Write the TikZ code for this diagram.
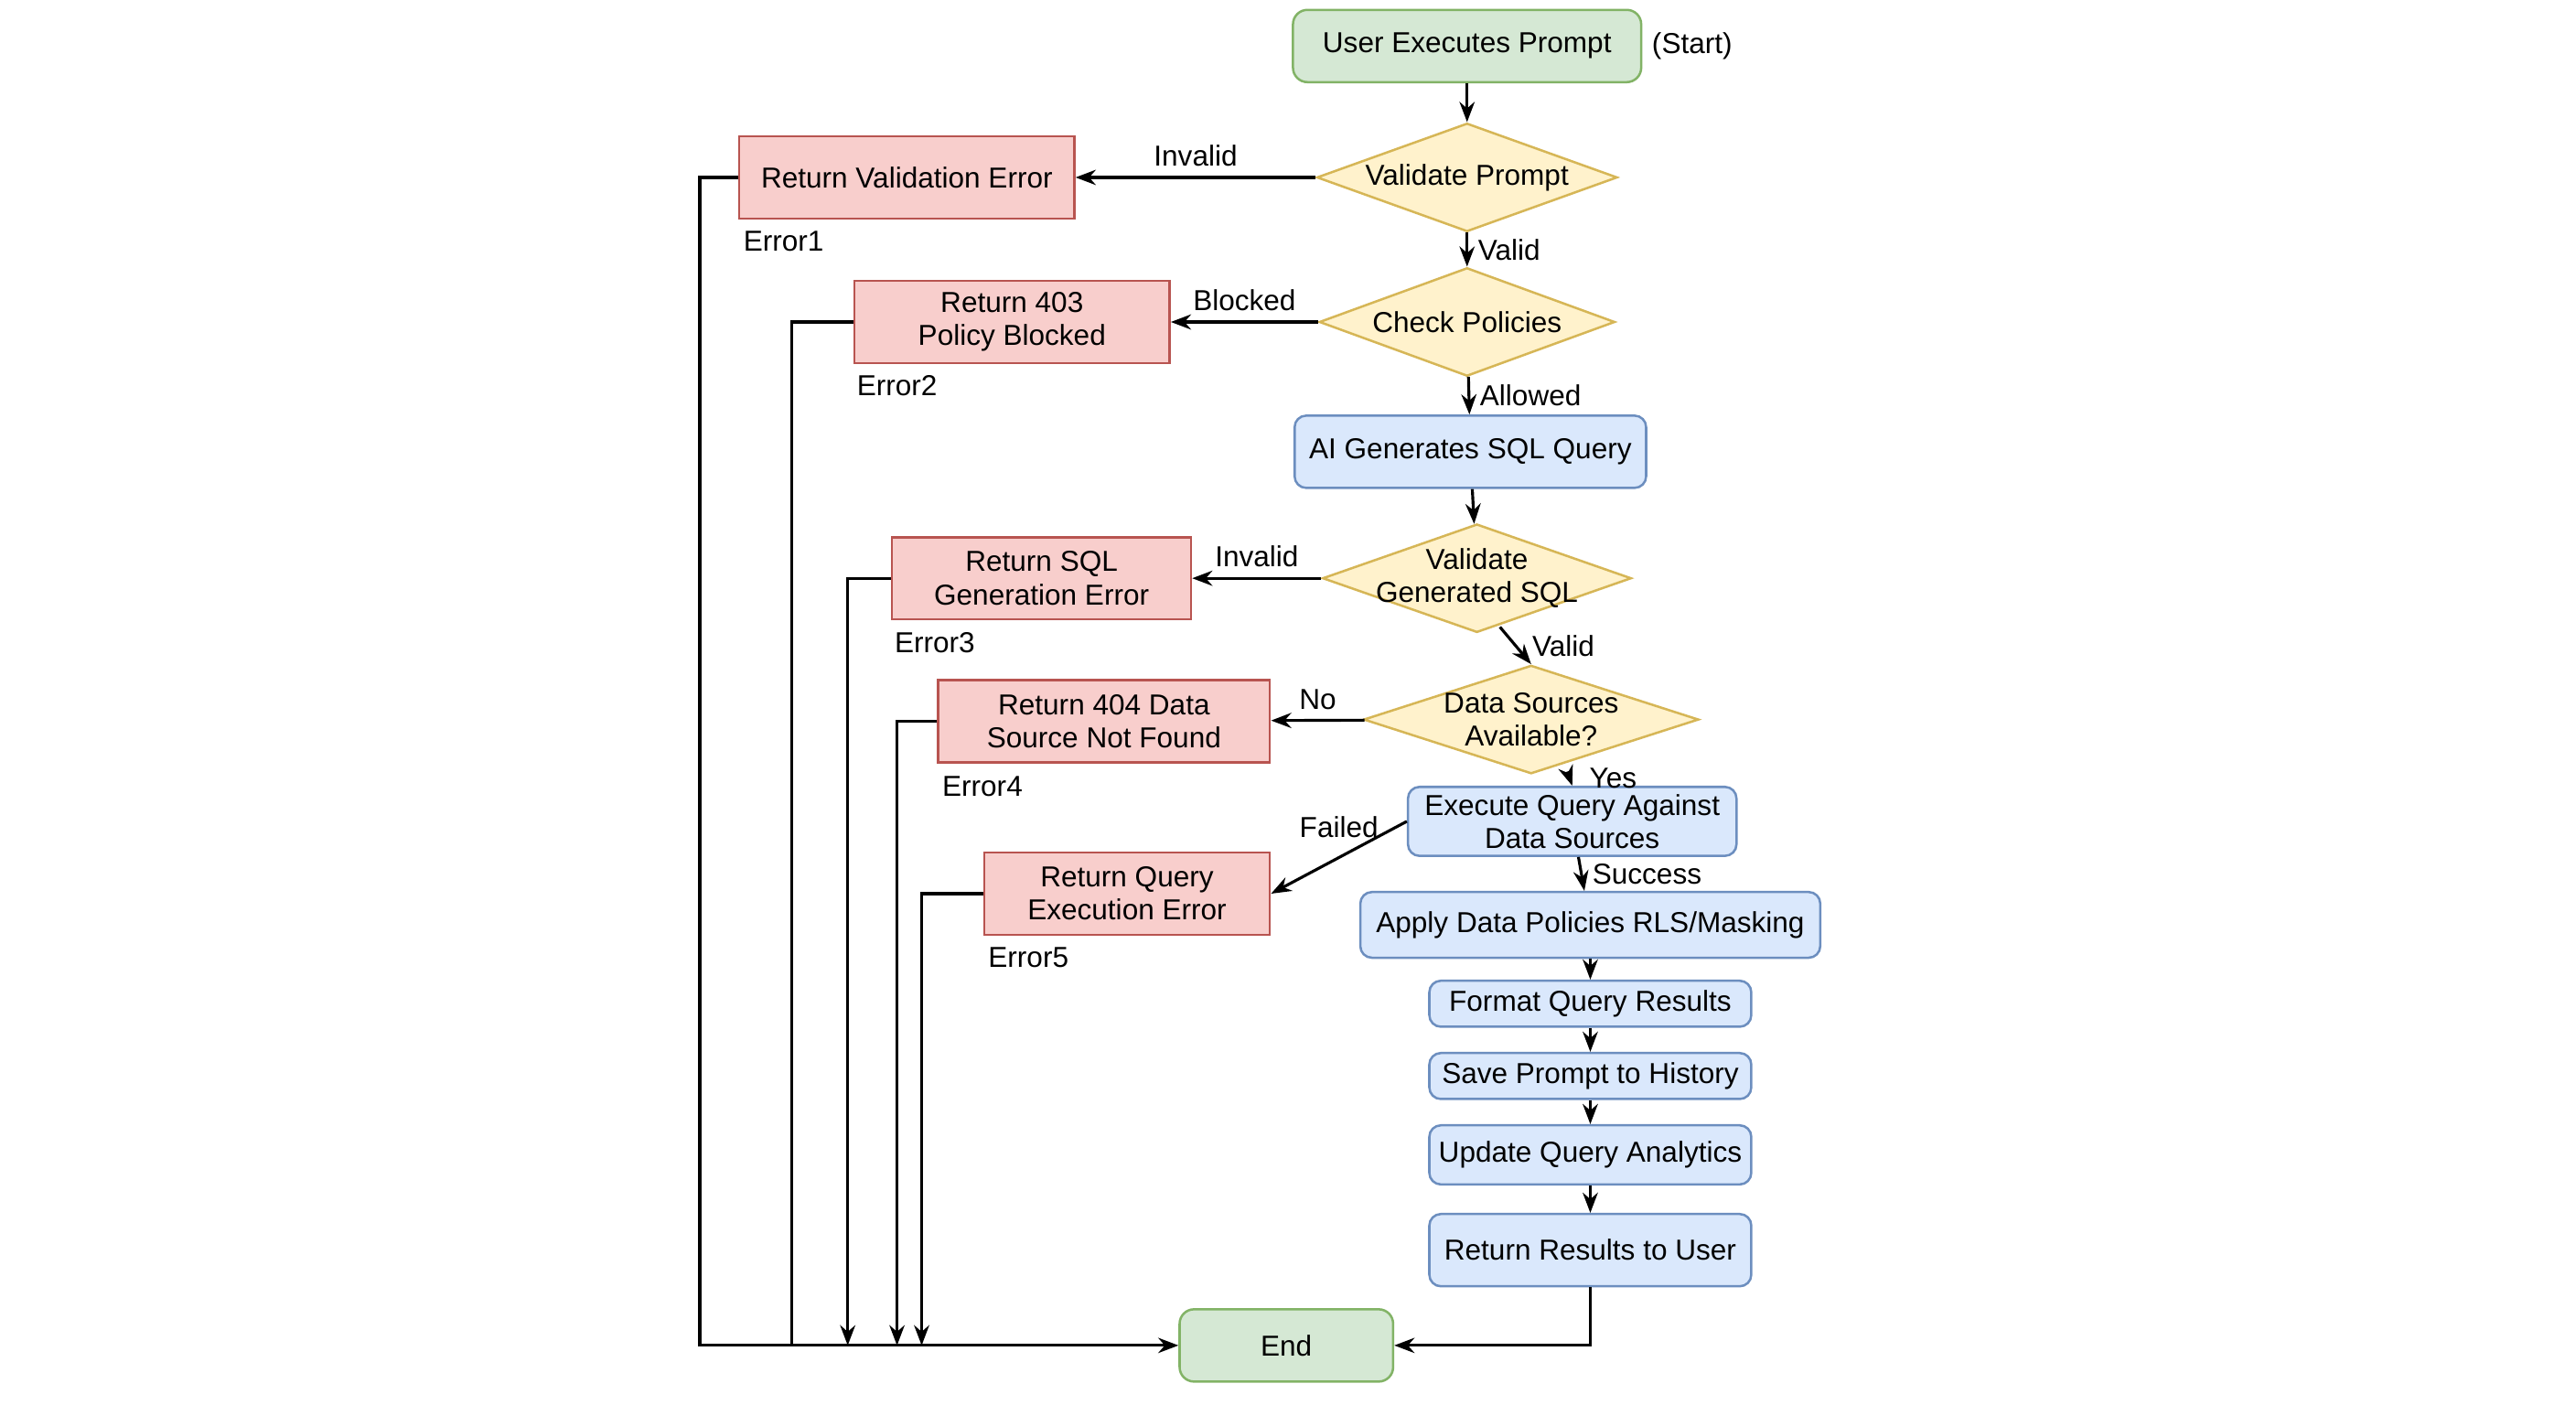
\documentclass[tikz,border=0pt]{standalone}
\usepackage{fontspec}
\setmainfont{Liberation Sans}
\usetikzlibrary{shapes.geometric, positioning, arrows.meta}
\definecolor{StartFill}{HTML}{D5E8D4}
\definecolor{StartLine}{HTML}{82B366}
\definecolor{CheckFill}{HTML}{FFF2CC}
\definecolor{CheckLine}{HTML}{D6B656}
\definecolor{ErrFill}{HTML}{F8CECC}
\definecolor{ErrLine}{HTML}{B85450}
\definecolor{StepFill}{HTML}{DAE8FC}
\definecolor{StepLine}{HTML}{6C8EBF}

\tikzset{
    base/.style={font=\fontsize{10}{11.5}\selectfont, align=center, inner sep=1pt, line width=0.8pt},
    terminal/.style={base, rounded corners=5pt, fill=StartFill, draw=StartLine},
    action/.style={base, rounded corners=4pt, fill=StepFill, draw=StepLine},
    check/.style={base, diamond, aspect=2.8, fill=CheckFill, draw=CheckLine},
    fail/.style={base, fill=ErrFill, draw=ErrLine},
    tag/.style={font=\fontsize{10}{11.5}\selectfont},
    flow/.style={-{Stealth[length=7pt]}, line width=1pt}
}

\begin{document}
\begin{tikzpicture}[x=0.02cm, y=-0.02cm]
    \useasboundingbox (0,0) rectangle (1568,855);

    % Main path
    \node[terminal, minimum width=4.24cm, minimum height=0.88cm] (start) at (893,28) {User Executes Prompt};
    \node[tag] (starttag) at (1030,28) {(Start)};
    \node[check, minimum width=3.6cm, minimum height=1.32cm] (vprompt) at (893,108) {Validate Prompt};
    \node[check, minimum width=3.6cm, minimum height=1.32cm] (policies) at (893,196) {Check Policies};
    \node[action, minimum width=4.28cm, minimum height=0.88cm] (gensql) at (895,275) {AI Generates SQL Query};
    \node[check, inner sep=-7pt, minimum width=3.76cm, minimum height=1.32cm] (vsql) at (899,352) {Validate\\Generated SQL};
    \node[check, inner sep=-6pt, minimum width=4.08cm, minimum height=1.32cm] (sources) at (932,438) {Data Sources\\Available?};
    \node[action, minimum width=4cm, minimum height=0.84cm] (exec) at (957,500) {Execute Query Against\\Data Sources};
    \node[action, minimum width=5.6cm, minimum height=0.8cm] (apply) at (968,563) {Apply Data Policies RLS/Masking};
    \node[action, minimum width=3.92cm, minimum height=0.56cm] (format) at (968,611) {Format Query Results};
    \node[action, minimum width=3.92cm, minimum height=0.56cm] (save) at (968,655) {Save Prompt to History};
    \node[action, minimum width=3.92cm, minimum height=0.72cm] (update) at (968,703) {Update Query Analytics};
    \node[action, minimum width=3.92cm, minimum height=0.88cm] (results) at (968,761) {Return Results to User};
    \node[terminal, minimum width=2.6cm, minimum height=0.88cm] (end) at (783,819) {End};

    % Error boxes
    \node[fail, minimum width=4.08cm, minimum height=1cm] (err1) at (552,108) {Return Validation Error};
    \node[fail, minimum width=3.84cm, minimum height=1cm] (err2) at (616,196) {Return 403\\Policy Blocked};
    \node[fail, minimum width=3.64cm, minimum height=1cm] (err3) at (634,352) {Return SQL\\Generation Error};
    \node[fail, minimum width=4.04cm, minimum height=1cm] (err4) at (672,439) {Return 404 Data\\Source Not Found};
    \node[fail, minimum width=3.48cm, minimum height=1cm] (err5) at (686,544) {Return Query\\Execution Error};
    \node[tag] (lab1) at (477,147) {Error1};
    \node[tag] (lab2) at (546,235) {Error2};
    \node[tag] (lab3) at (569,391) {Error3};
    \node[tag] (lab4) at (598,479) {Error4};
    \node[tag] (lab5) at (626,583) {Error5};

    % Connectors
    \draw[flow] (start) -- (vprompt);
    \draw[flow] (vprompt) -- node[tag, right] {Valid} (policies);
    \draw[flow] (policies) -- node[tag, right] {Allowed} (gensql);
    \draw[flow] (gensql) -- (vsql);
    \draw[flow] (vsql.south) ++(14,-4) coordinate (vsqlout) -- node[tag, right=2pt] {Valid} (sources.north);
    \draw[flow] (sources.south) ++(22,-2) coordinate (srcout) -- node[tag, right=3pt] {Yes} (exec.north);
    \draw[flow] (exec) -- node[tag, right] {Success} (apply);
    \draw[flow] (apply) -- (format);
    \draw[flow] (format) -- (save);
    \draw[flow] (save) -- (update);
    \draw[flow] (update) -- (results);
    \draw[flow] (results.south) |- (end.east);

    \draw[flow] (vprompt) -- node[tag, above] {Invalid} (err1);
    \draw[flow] (policies) -- node[tag, above] {Blocked} (err2);
    \draw[flow] (vsql) -- node[tag, above] {Invalid} (err3);
    \draw[flow] (sources) -- node[tag, above] {No} (err4);
    \draw[flow] (exec.west) -- node[tag, above=3pt] {Failed} (err5.east);

    % Error returns
    \coordinate (r1) at (426,819);
    \coordinate (r2) at (482,819);
    \coordinate (r3) at (516,819);
    \coordinate (r4) at (546,819);
    \coordinate (r5) at (561,819);
    \draw[flow] (err1.west) -| (r1) -- (end.west);
    \draw[line width=1pt] (err2.west) -| (r2);
    \draw[flow] (err3.west) -| (r3);
    \draw[flow] (err4.west) -| (r4);
    \draw[flow] (err5.west) -| (r5);
\end{tikzpicture}
\end{document}
